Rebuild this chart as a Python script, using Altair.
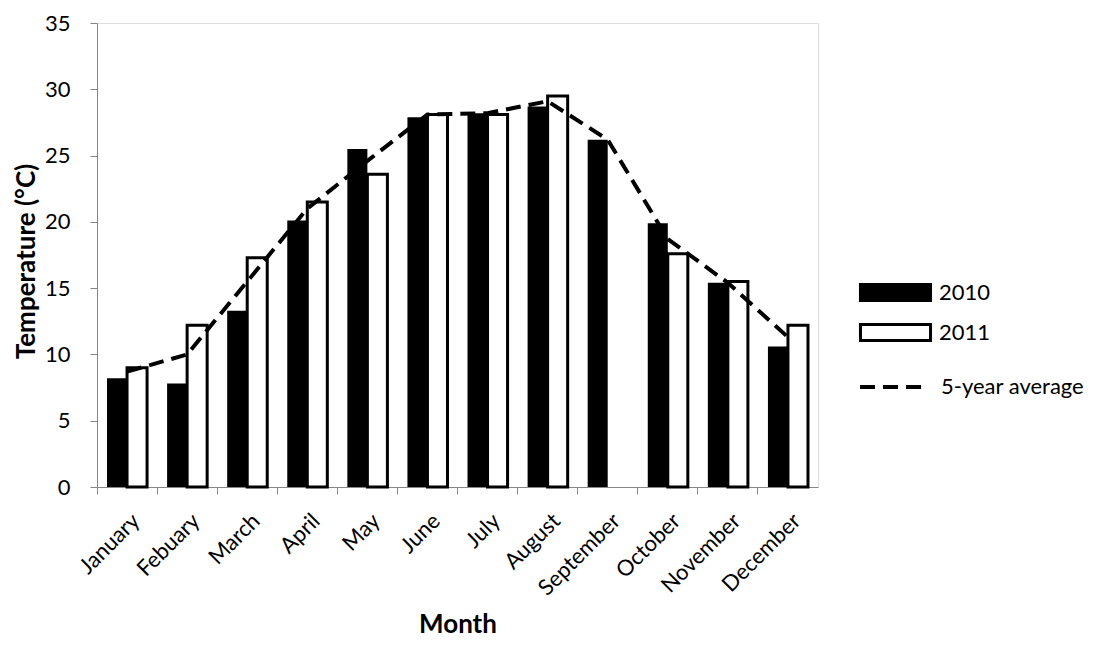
import altair as alt
import pandas as pd

months = ["January", "Febuary", "March", "April", "May", "June", "July",
          "August", "September", "October", "November", "December"]
t2010 = [8.2, 7.8, 13.3, 20.1, 25.5, 27.9, 28.2, 28.7, 26.2, 19.9, 15.4, 10.6]
t2011 = [9.0, 12.2, 17.3, 21.5, 23.6, 28.1, 28.1, 29.5, None, 17.6, 15.5, 12.2]
avg5 = [8.7, 10.0, 15.5, 21.0, 24.6, 28.1, 28.2, 29.1, 26.2, 18.7, 15.4, 11.3]
years = ["2010", "2011"]
avg_label = "5-year average"
y_ticks = [0, 5, 10, 15, 20, 25, 30, 35]

FONT = "Lato"
AXIS_GRAY = "#868686"

rows = []
for m, a, b in zip(months, t2010, t2011):
    rows.append({"month": m, "year": years[0], "temp": a})
    rows.append({"month": m, "year": years[1], "temp": b})
bars_df = pd.DataFrame(rows)
line_df = pd.DataFrame({"month": months, "avg": avg5, "series": [avg_label] * len(months)})

x_scale = alt.Scale(domain=months, paddingInner=0, paddingOuter=0)
y_scale = alt.Scale(domain=[0, 35], nice=False)

x_axis = alt.Axis(
    title="Month", labelAngle=-45, labelAlign="right", labelBaseline="middle",
    bandPosition=0, labelOffset=9,
    labelFont=FONT, labelFontSize=22, labelColor="black", labelPadding=23,
    titleFont=FONT, titleFontSize=26, titleFontWeight="bold", titleColor="black",
    titleY=137, titleBaseline="middle",
    domainColor=AXIS_GRAY, tickColor=AXIS_GRAY, tickSize=7, grid=False,
)
y_axis = alt.Axis(
    title="Temperature (°C)", values=y_ticks, grid=False,
    labelFont=FONT, labelFontSize=22, labelColor="black", labelPadding=20,
    titleFont=FONT, titleFontSize=26, titleFontWeight="bold", titleColor="black",
    titleX=-71, titleY=238, titleBaseline="middle",
    domainColor=AXIS_GRAY, tickColor=AXIS_GRAY, tickSize=7,
)

bars = alt.Chart(bars_df).mark_bar(stroke="black").encode(
    x=alt.X("month:N", sort=months, scale=x_scale, axis=x_axis),
    xOffset=alt.XOffset("year:N", scale=alt.Scale(domain=years, paddingOuter=0.5, paddingInner=0)),
    y=alt.Y("temp:Q", scale=y_scale, axis=y_axis),
    fill=alt.Fill("year:N", scale=alt.Scale(domain=years, range=["black", "white"]),
                  legend=alt.Legend(
                      orient="none", legendX=773, legendY=244, title=None,
                      symbolType="M-1.46,-0.333H1.46V0.333H-1.46Z", symbolSize=2304,
                      symbolStrokeColor="black", symbolStrokeWidth=3,
                      labelFont=FONT, labelFontSize=22, labelColor="black",
                      labelOffset=18, padding=0, rowPadding=0)),
    strokeWidth=alt.StrokeWidth("year:N", scale=alt.Scale(domain=years, range=[0, 3]), legend=None),
)

line = alt.Chart(line_df).mark_line(color="black", strokeWidth=4).encode(
    x=alt.X("month:N", sort=months, scale=x_scale),
    y=alt.Y("avg:Q", scale=y_scale),
    strokeDash=alt.StrokeDash("series:N", scale=alt.Scale(domain=[avg_label], range=[[15, 8]]),
                              legend=alt.Legend(
                                  orient="none", legendX=768, legendY=338, title=None,
                                  symbolType="M-1.29,0H1.29", symbolSize=2304,
                                  symbolStrokeColor="black", symbolStrokeWidth=4,
                                  symbolFillColor="transparent",
                                  labelFont=FONT, labelFontSize=22, labelColor="black",
                                  labelOffset=24, padding=0, rowPadding=0)),
)

chart = alt.layer(bars, line).resolve_legend(fill="independent", strokeDash="independent").properties(
    width=721, height=464, autosize="none",
    padding={"left": 89, "top": 15, "right": 275, "bottom": 152},
).configure_view(stroke=None).configure(background="white")

chart.save("out.html", embed_options={"renderer": "svg", "actions": False})
